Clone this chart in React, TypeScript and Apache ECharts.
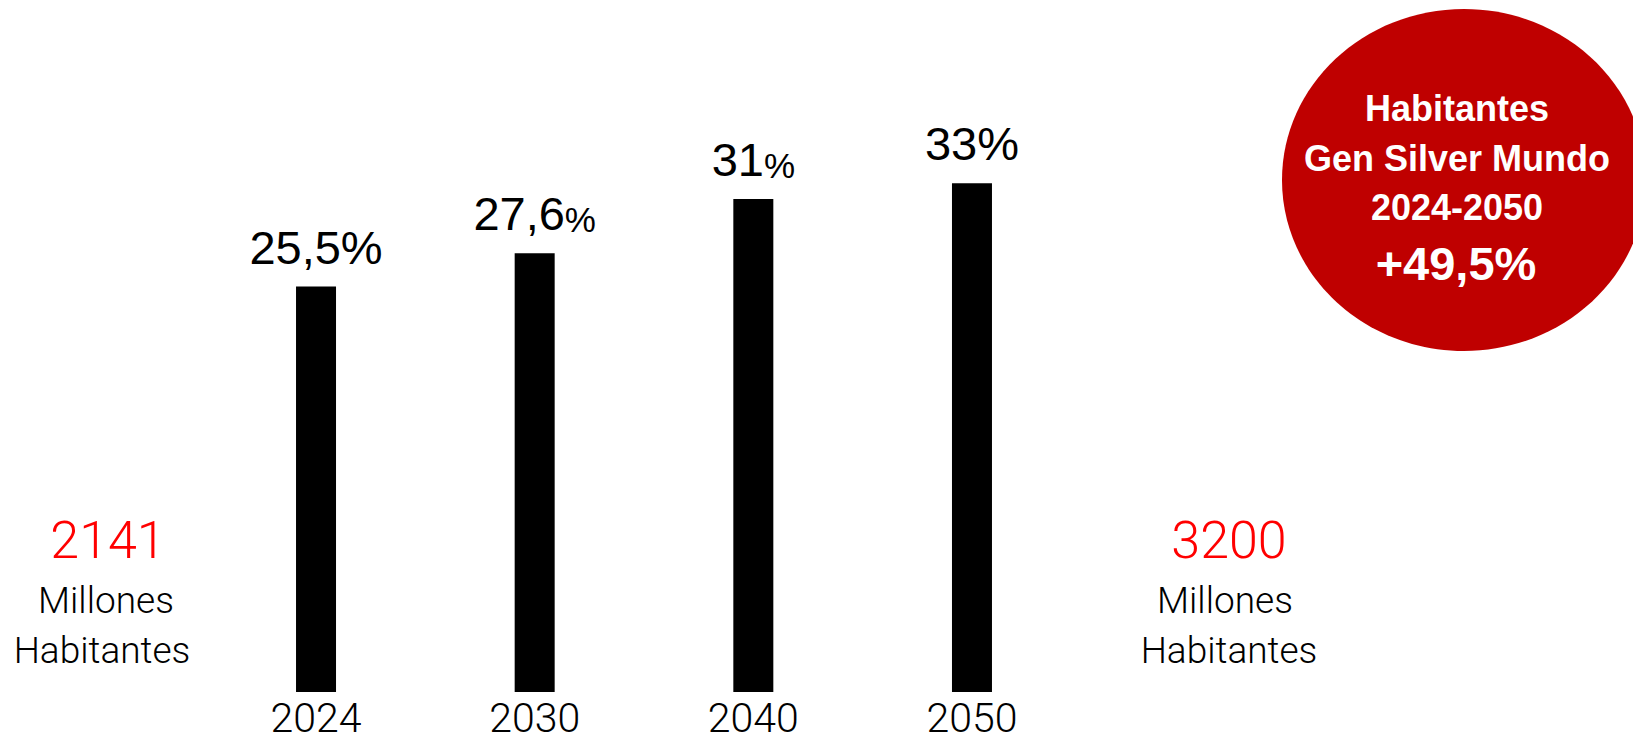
import React, { useEffect, useRef } from "react";
import * as echarts from "echarts";

// ---- data ----
const years = ["2024", "2030", "2040", "2050"];
// bar heights as drawn in the picture (in % of population)
const barValues = [25.5, 27.6, 31, 32];
// value labels as printed above the bars
const labelNumbers = ["25,5", "27,6", "31", "33"];
const smallPercent = [false, true, true, false];

const leftNumber = "2141";
const rightNumber = "3200";
const captionLines = ["Millones", "Habitantes"];

const badgeLines = ["Habitantes", "Gen Silver Mundo", "2024-2050"];
const badgeValue = "+49,5%";

const THIN = "Roboto, 'Liberation Sans', Arial, sans-serif";
const REG = "'Liberation Sans', Arial, Helvetica, sans-serif";

export default function App() {
  const ref = useRef<HTMLDivElement>(null);

  useEffect(() => {
    if (!ref.current) return;
    const chart = echarts.init(ref.current, undefined, { renderer: "svg" });

    const sideText = (num: string, xs: number[]) => [
      {
        type: "text",
        x: xs[0],
        y: 540,
        style: {
          text: num,
          fill: "#ff0000",
          fontSize: 52,
          fontWeight: 300,
          fontFamily: THIN,
          align: "center",
          verticalAlign: "middle",
        },
      },
      ...captionLines.map((t, i) => ({
        type: "text",
        x: xs[i + 1],
        y: 600 + i * 50,
        style: {
          text: t,
          fill: "#000",
          fontSize: 37,
          fontWeight: 300,
          fontFamily: THIN,
          align: "center",
          verticalAlign: "middle",
        },
      })),
    ];

    const option: any = {
      animation: false,
      backgroundColor: "#ffffff",
      grid: { left: 206.7, right: 551.7, top: 56, bottom: 51 },
      xAxis: {
        type: "category",
        data: years,
        axisLine: { show: false },
        axisTick: { show: false },
        axisLabel: {
          color: "#000",
          fontSize: 41,
          lineHeight: 30,
          fontWeight: 300,
          fontFamily: THIN,
          margin: 11,
        },
      },
      yAxis: {
        type: "value",
        min: 0,
        max: 40,
        show: false,
        splitLine: { show: false },
      },
      series: [
        {
          type: "bar",
          data: barValues,
          barWidth: 40,
          itemStyle: { color: "#000" },
          label: {
            show: true,
            position: "top",
            distance: 16,
            formatter: (p: any) =>
              smallPercent[p.dataIndex]
                ? `{n|${labelNumbers[p.dataIndex]}}{s|%}`
                : `{n|${labelNumbers[p.dataIndex]}%}`,
            rich: {
              n: {
                fontSize: 47,
                lineHeight: 47,
                color: "#000",
                fontFamily: REG,
                verticalAlign: "bottom",
              },
              s: {
                fontSize: 35,
                lineHeight: 39,
                color: "#000",
                fontFamily: REG,
                verticalAlign: "bottom",
              },
            },
          },
        },
      ],
      graphic: [
        ...sideText(leftNumber, [108, 106, 102]),
        ...sideText(rightNumber, [1229, 1225, 1229]),
        {
          type: "ellipse",
          shape: { cx: 1464, cy: 180, rx: 182, ry: 171 },
          style: { fill: "#bf0000" },
        },
        ...badgeLines.map((t, i) => ({
          type: "text",
          x: 1457,
          y: 108.5 + i * 49.5,
          style: {
            text: t,
            fill: "#ffffff",
            fontSize: 36,
            fontWeight: "bold",
            fontFamily: REG,
            align: "center",
            verticalAlign: "middle",
          },
        })),
        {
          type: "text",
          x: 1456,
          y: 263.5,
          style: {
            text: badgeValue,
            fill: "#ffffff",
            fontSize: 47,
            fontWeight: "bold",
            fontFamily: REG,
            align: "center",
            verticalAlign: "middle",
          },
        },
      ],
    };

    chart.setOption(option);
    return () => chart.dispose();
  }, []);

  return (
    <div
      ref={ref}
      style={{ position: "absolute", left: 0, top: 0, width: 1633, height: 743 }}
    />
  );
}
